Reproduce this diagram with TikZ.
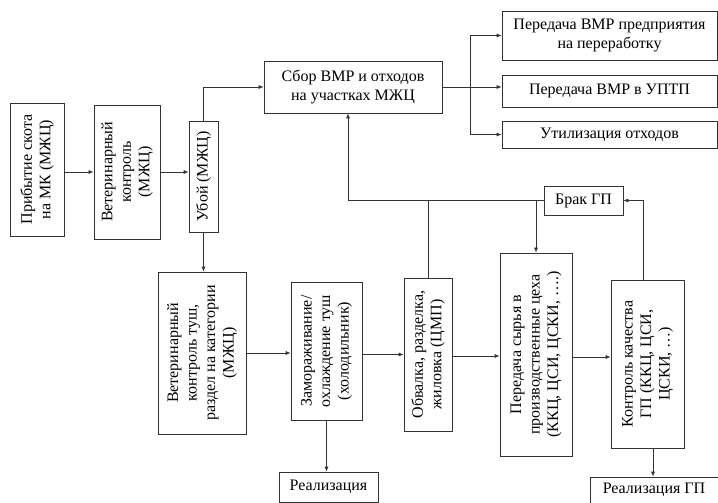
\documentclass[tikz,border=0pt]{standalone}
\usepackage{fontspec}
\setmainfont{Liberation Serif}
\usetikzlibrary{arrows.meta}

\tikzset{
  box/.style={draw=black!80, line width=0.7pt, inner sep=0pt, align=center},
  vtext/.style={rotate=90, align=center, inner sep=0pt},
  arr/.style={-{Latex[length=5pt,width=4pt]}, draw=black!80, line width=0.7pt},
  ln/.style={draw=black!80, line width=0.7pt}
}

\begin{document}
\begin{tikzpicture}[x=1pt,y=-1pt,font=\fontsize{16}{18.5}\selectfont]
    \useasboundingbox (0,0) rectangle (718,503);

    % left column
    \node[box, minimum width=54, minimum height=133] (arrival) at (37,169.5) {};
    \node[vtext] (arrivalT) at (arrival) {Прибытие скота\\на МК (МЖЦ)};
    \node[box, minimum width=66, minimum height=134] (vet) at (127,172) {};
    \node[vtext] (vetT) at (vet) {Ветеринарный\\контроль\\(МЖЦ)};
    \node[box, minimum width=29, minimum height=111] (kill) at (203.5,176.5) {};
    \node[vtext] (killT) at (kill) {Убой (МЖЦ)};

    % top row
    \node[box, minimum width=178, minimum height=52] (collect) at (353,87) {Сбор ВМР и отходов\\на участках МЖЦ};
    \node[box, minimum width=215, minimum height=49] (recycle) at (609.5,35.5) {Передача ВМР предприятия\\на переработку};
    \node[box, minimum width=215, minimum height=32] (uptp) at (609.5,91) {Передача ВМР в УПТП};
    \node[box, minimum width=215, minimum height=27] (waste) at (609.5,134.5) {Утилизация отходов};
    \coordinate (fork) at (470,88);

    % bottom row
    \node[box, minimum width=88, minimum height=162] (carcass) at (202,353) {};
    \node[vtext] (carcassT) at (carcass) {Ветеринарный\\контроль туш,\\раздел на категории\\(МЖЦ)};
    \node[box, minimum width=71, minimum height=138] (freeze) at (326.5,351) {};
    \node[vtext] (freezeT) at (freeze) {Замораживание/\\охлаждение туш\\(холодильник)};
    \node[box, minimum width=99, minimum height=30] (sale) at (328.5,487) {Реализация};
    \node[box, minimum width=48, minimum height=153] (bone) at (428,354.5) {};
    \node[vtext] (boneT) at (bone) {Обвалка, разделка,\\жиловка (ЦМП)};
    \node[box, minimum width=72, minimum height=203] (shops) at (536,354.5) {};
    \node[vtext] (shopsT) at (shops) {Передача сырья в\\производственные цеха\\(ККЦ, ЦСИ, ЦСКИ, \dots.)};
    \node[box, minimum width=79, minimum height=29] (reject) at (583.5,200.5) {Брак ГП};
    \node[box, minimum width=73, minimum height=168] (quality) at (647.5,364) {};
    \node[vtext] (qualityT) at (quality) {Контроль качества\\ГП (ККЦ, ЦСИ,\\ЦСКИ, \dots)};
    \node[box, minimum width=128, minimum height=26] (salegp) at (654,490) {Реализация ГП};

    % connectors
    \draw[arr] (arrival.east |- vet.west) -- (vet.west);
    \draw[arr] (vet.east) -- (vet.east -| kill.west);
    \draw[arr] (kill.north) |- (collect.west);
    \draw[arr] (kill.south) -- (kill.south |- carcass.north);
    \draw[arr] (collect.east) -- (collect.east -| uptp.west);
    \draw[arr] (fork) |- (recycle.west);
    \draw[arr] (fork) |- (waste.west);
    \draw[arr] (carcass.east) -- (carcass.east -| freeze.west);
    \draw[arr] (freeze.east |- bone.west) -- (bone.west);
    \draw[arr] (bone.east |- 0,356) -- (shops.west |- 0,356);
    \draw[arr] (shops.east |- 0,357) -- (quality.west |- 0,357);
    \draw[arr] (freeze.south) -- (freeze.south |- sale.north);
    \draw[arr] ([xshift=-4.5pt]quality.north) |- (reject.east);
    \draw[arr] ([xshift=5.5pt]quality.south) -- ([xshift=5.5pt]quality.south |- salegp.north);
    \draw[arr] (reject.west) -| ([xshift=-5pt]collect.south);
    \draw[ln] (bone.north) -- (bone.north |- reject.west);
    \draw[arr] (shops.north |- reject.west) -- (shops.north);

\end{tikzpicture}
\end{document}
